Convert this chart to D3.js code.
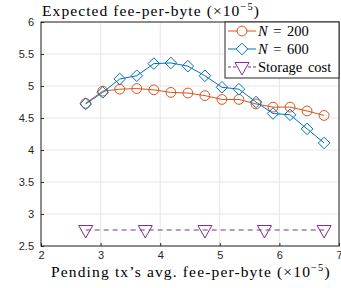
<!DOCTYPE html>
<html>
<head>
<meta charset="utf-8">
<script src="https://cdn.jsdelivr.net/npm/d3@7"></script>
<style>
  body { margin: 0; background: #fff; }
  text { font-family: "Liberation Sans", Arial, sans-serif; }
  .tex { font-family: "Liberation Serif", "DejaVu Serif", serif; }
</style>
</head>
<body>
<svg id="chart" width="341" height="288"></svg>
<script>
const xVals = [2.75, 3.036, 3.321, 3.607, 3.893, 4.179, 4.464, 4.75, 5.036, 5.321, 5.607, 5.893, 6.179, 6.464, 6.75];
const n200 = [4.73, 4.92, 4.95, 4.96, 4.94, 4.9, 4.89, 4.85, 4.79, 4.79, 4.72, 4.67, 4.67, 4.61, 4.54];
const n600 = [4.72, 4.9, 5.11, 5.16, 5.35, 5.36, 5.31, 5.16, 4.98, 4.95, 4.75, 4.57, 4.55, 4.33, 4.11];
const storageX = [2.75, 3.75, 4.75, 5.75, 6.75];
const storage = [2.75, 2.75, 2.75, 2.75, 2.75];
const xTicks = [2, 3, 4, 5, 6, 7];
const yTicks = [2.5, 3, 3.5, 4, 4.5, 5, 5.5, 6];

const svg = d3.select("#chart");
const mLeft = 41, mRight = 339, mTop = 22, mBottom = 246;

const x = d3.scaleLinear().domain([2, 7]).range([mLeft, mRight]);
const y = d3.scaleLinear().domain([2.5, 6]).range([mBottom, mTop]);

const orange = "#D95319";
const blue = "#0072BD";
const purple = "#7E2F8E";

// grid
const grid = svg.append("g").attr("stroke", "#e6e6e6").attr("stroke-width", 1);
grid.selectAll(".gx").data(xTicks).join("line")
  .attr("x1", d => x(d)).attr("x2", d => x(d))
  .attr("y1", mTop).attr("y2", mBottom);
grid.selectAll(".gy").data(yTicks).join("line")
  .attr("x1", mLeft).attr("x2", mRight)
  .attr("y1", d => y(d)).attr("y2", d => y(d));

// axes
const fmt = d3.format("~g");
const xAxis = svg.append("g")
  .attr("transform", `translate(0,${mBottom})`)
  .call(d3.axisBottom(x).tickValues(xTicks).tickFormat(fmt).tickSizeInner(-3).tickSizeOuter(0).tickPadding(5));
const yAxis = svg.append("g")
  .attr("transform", `translate(${mLeft},0)`)
  .call(d3.axisLeft(y).tickValues(yTicks).tickFormat(fmt).tickSizeInner(-3).tickSizeOuter(0).tickPadding(7));
[xAxis, yAxis].forEach(a => {
  a.select(".domain").remove();
  a.selectAll("line").attr("stroke", "#262626");
  a.selectAll("text").attr("fill", "#262626").style("font-size", "11px");
});

// box
svg.append("rect")
  .attr("x", mLeft).attr("y", mTop)
  .attr("width", mRight - mLeft).attr("height", mBottom - mTop)
  .attr("fill", "none").attr("stroke", "#262626").attr("stroke-width", 1);

const line = d3.line().x(d => x(d[0])).y(d => y(d[1]));

// markers
const tri = "M-7,-4.5L7,-4.5L0,8Z";
const diamond = "M0,-5.8L5.8,0L0,5.8L-5.8,0Z";
const circR = 4.9;

// storage cost
const sData = storageX.map((d, i) => [d, storage[i]]);
svg.append("path").datum(sData)
  .attr("d", line).attr("fill", "none")
  .attr("stroke", purple).attr("stroke-width", 1).attr("stroke-dasharray", "5,4");
svg.selectAll(".tri").data(sData).join("path")
  .attr("d", tri)
  .attr("transform", d => `translate(${x(d[0])},${y(d[1])})`)
  .attr("fill", "none").attr("stroke", purple);

const bData = xVals.map((d, i) => [d, n600[i]]);
const oData = xVals.map((d, i) => [d, n200[i]]);

// N=200
svg.append("path").datum(oData)
  .attr("d", line).attr("fill", "none").attr("stroke", orange).attr("stroke-width", 1);
svg.selectAll(".circ").data(oData).join("circle")
  .attr("cx", d => x(d[0])).attr("cy", d => y(d[1])).attr("r", circR)
  .attr("fill", "none").attr("stroke", orange);

// N=600
svg.append("path").datum(bData)
  .attr("d", line).attr("fill", "none").attr("stroke", blue).attr("stroke-width", 1);
svg.selectAll(".dia").data(bData).join("path")
  .attr("d", diamond)
  .attr("transform", d => `translate(${x(d[0])},${y(d[1])})`)
  .attr("fill", "none").attr("stroke", blue);

// legend
const lg = svg.append("g");
lg.append("rect").attr("x", 225).attr("y", 22).attr("width", 114).attr("height", 56)
  .attr("fill", "#fff").attr("stroke", "#262626").attr("stroke-width", 1);
const entries = [
  { c: orange, m: "circle", label: ["N", " = 200"], dash: null },
  { c: blue, m: "diamond", label: ["N", " = 600"], dash: null },
  { c: purple, m: "tri", label: ["", "Storage cost"], dash: "3,2" }
];
entries.forEach((e, i) => {
  const cy = 31 + i * 18;
  lg.append("line").attr("x1", 228).attr("x2", 256).attr("y1", cy).attr("y2", cy)
    .attr("stroke", e.c).attr("stroke-dasharray", e.dash);
  if (e.m === "circle") {
    lg.append("circle").attr("cx", 242).attr("cy", cy).attr("r", circR)
      .attr("fill", "#fff").attr("stroke", e.c);
  } else if (e.m === "diamond") {
    lg.append("path").attr("d", diamond).attr("transform", `translate(242,${cy})`)
      .attr("fill", "#fff").attr("stroke", e.c);
  } else {
    lg.append("path").attr("d", tri).attr("transform", `translate(242,${cy})`)
      .attr("fill", "#fff").attr("stroke", e.c);
  }
  const t = lg.append("text").attr("class", "tex").attr("x", 258).attr("y", cy + 5)
    .attr("fill", "#000").style("font-size", "14.5px");
  if (e.label[0]) t.append("tspan").style("font-style", "italic").text(e.label[0]);
  t.append("tspan").text(e.label[1]).style("word-spacing", "2px");
});

// title and x label, stretched to the width they take in the reference
function expLabel(xStart, xEnd, yp, txt) {
  const t = svg.append("text").attr("class", "tex").attr("x", xStart).attr("y", yp)
    .attr("fill", "#000").style("font-size", "15.5px");
  t.append("tspan").text(txt + " (\u00d710");
  t.append("tspan").attr("dy", -6).style("font-size", "10.5px").text("\u22125");
  t.append("tspan").attr("dy", 6).text(")");
  const w = t.node().getBBox().width;
  const n = t.text().length;
  t.style("letter-spacing", ((xEnd - xStart - w) / n) + "px");
}
expLabel(42, 260, 16, "Expected fee-per-byte");
expLabel(51, 332, 277, "Pending tx\u2019s avg.  fee-per-byte");
</script>
</body>
</html>
